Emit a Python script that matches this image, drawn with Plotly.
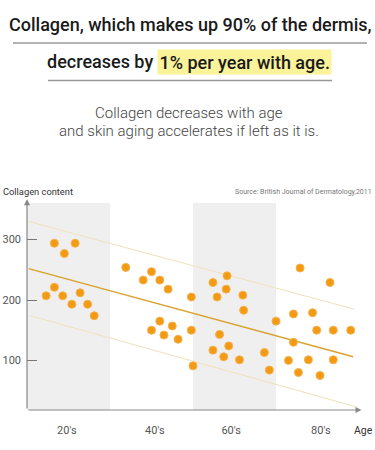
import plotly.graph_objects as go

# ---------------- data ----------------
age_labels = ["20's", "40's", "60's", "80's"]
age_label_pos = [0.48, 1.54, 2.46, 3.54]

dot_x = [0.33, 0.58, 0.45, 0.33, 0.23, 0.43, 0.64, 0.54, 0.73, 0.81,
         1.19, 1.50, 1.40, 1.60, 1.70, 1.98, 1.60, 1.50, 1.75, 1.65, 1.82, 1.98, 2.00,
         2.41, 2.24, 2.40, 2.29, 2.60, 2.61, 2.32, 2.43, 2.24, 2.37, 2.56, 2.86, 2.92,
         3.00, 3.29, 3.65, 3.21, 3.44, 3.49, 3.69, 3.90, 3.21, 3.15, 3.39, 3.69, 3.27, 3.53]
dot_y = [294, 294, 277, 221, 207, 207, 212, 193, 193, 174,
         254, 247, 233, 233, 218, 205, 165, 150, 157, 142, 135, 150, 91,
         240, 229, 218, 205, 208, 183, 143, 124, 117, 106, 101, 113, 84,
         165, 253, 229, 177, 179, 150, 150, 150, 130, 100, 101, 101, 80, 75]

trend_x = [0.02, 3.93]
trend_y = [252, 106]
upper_x = [0.02, 3.94]
upper_y = [330, 185]
lower_x = [0.04, 3.97]
lower_y = [174, 23]

y_ticks = [100, 200, 300]

# ---------------- layout helpers ----------------
W, H = 375, 450
ML, MR, MT, MB = 27, 13, 198, 40
PW, PH = W - ML - MR, H - MT - MB
X_RANGE = [0, 4.036]
Y_RANGE = [17.9, 368.9]


def px(xp):
    return (xp - ML) / PW


def py(yp):
    return (H - MB - yp) / PH


fig = go.Figure()

# shaded bands (20's and 60's)
for x0, x1 in [(0, 1), (2, 3)]:
    fig.add_shape(type="rect", xref="x", yref="y", x0=x0, x1=x1,
                  y0=Y_RANGE[0], y1=360.6, fillcolor="#EFEFEF",
                  line=dict(width=0), layer="below")

fig.add_trace(go.Scatter(x=upper_x, y=upper_y, mode="lines",
                         line=dict(color="#EFE2BC", width=1), hoverinfo="skip"))
fig.add_trace(go.Scatter(x=lower_x, y=lower_y, mode="lines",
                         line=dict(color="#EFE2BC", width=1), hoverinfo="skip"))
fig.add_trace(go.Scatter(x=trend_x, y=trend_y, mode="lines",
                         line=dict(color="#D9A32E", width=1.5), hoverinfo="skip"))
fig.add_trace(go.Scatter(x=dot_x, y=dot_y, mode="markers",
                         marker=dict(size=8, color="#F29A14",
                                     line=dict(width=1, color="#F6B24A"))))

# axes arrows
fig.add_annotation(x=0, y=367, ax=0, ay=Y_RANGE[0], xref="x", yref="y",
                   axref="x", ayref="y", text="", showarrow=True,
                   arrowhead=2, arrowsize=1, arrowwidth=1.2, arrowcolor="#888888")
fig.add_annotation(x=4.03, y=Y_RANGE[0], ax=0, ay=Y_RANGE[0], xref="x", yref="y",
                   axref="x", ayref="y", text="", showarrow=True,
                   arrowhead=2, arrowsize=1, arrowwidth=1.2, arrowcolor="#888888")

TITLE_FONT = dict(family="Roboto", size=18, color="#1A1A1A", weight=500)

# titles
fig.add_annotation(xref="paper", yref="paper", x=px(190), y=py(24),
                   text="Collagen, which makes up 90% of the dermis,",
                   showarrow=False, font=TITLE_FONT, xanchor="center", yanchor="middle")
fig.add_annotation(xref="paper", yref="paper", x=px(155), y=py(62),
                   text="decreases by", showarrow=False, font=TITLE_FONT,
                   xanchor="right", yanchor="middle")
fig.add_annotation(xref="paper", yref="paper", x=px(157), y=py(62),
                   text="1% per year with age.", showarrow=False, font=TITLE_FONT,
                   xanchor="left", yanchor="middle", bgcolor="#FBF39A", borderpad=1.5)
fig.add_shape(type="line", xref="paper", yref="paper", x0=px(13), x1=px(367),
              y0=py(43), y1=py(43), line=dict(color="#999999", width=1.5))
fig.add_shape(type="line", xref="paper", yref="paper", x0=px(48), x1=px(332),
              y0=py(80.5), y1=py(80.5), line=dict(color="#999999", width=1.5))

SUB_FONT = dict(family="Roboto", size=15, color="#444444", weight=300)
fig.add_annotation(xref="paper", yref="paper", x=px(189), y=py(113),
                   text="Collagen decreases with age", showarrow=False,
                   font=SUB_FONT, xanchor="center", yanchor="middle")
fig.add_annotation(xref="paper", yref="paper", x=px(189), y=py(131),
                   text="and skin aging accelerates if left as it is.", showarrow=False,
                   font=SUB_FONT, xanchor="center", yanchor="middle")

# axis titles / source
fig.add_annotation(xref="paper", yref="paper", x=px(1), y=py(191),
                   text="Collagen content", showarrow=False,
                   font=dict(family="Roboto", size=9.3, color="#333333"),
                   xanchor="left", yanchor="middle")
fig.add_annotation(xref="paper", yref="paper", x=px(374), y=py(192),
                   text="Source: British Journal of Dermatology,2011", showarrow=False,
                   font=dict(family="Roboto", size=7, color="#777777"),
                   xanchor="right", yanchor="middle")
fig.add_annotation(xref="paper", yref="paper", x=px(363), y=py(430),
                   text="Age", showarrow=False,
                   font=dict(family="Roboto", size=10.5, color="#333333"),
                   xanchor="center", yanchor="middle")

fig.update_xaxes(range=X_RANGE, showgrid=False, zeroline=False, showline=False,
                 tickvals=age_label_pos, ticktext=age_labels, ticks="",
                 ticklabelstandoff=12, automargin=False,
                 tickfont=dict(family="Roboto", size=11, color="#555555"),
                 fixedrange=True)
fig.update_yaxes(range=Y_RANGE, showgrid=False, zeroline=False, showline=False,
                 tickvals=y_ticks, ticks="inside", ticklen=10, tickcolor="#777777",
                 tickwidth=1, ticklabelstandoff=5, automargin=False,
                 tickfont=dict(family="Roboto", size=11, color="#555555"),
                 fixedrange=True)

fig.update_layout(width=W, height=H, margin=dict(l=ML, r=MR, t=MT, b=MB),
                  paper_bgcolor="white", plot_bgcolor="white", showlegend=False)

fig.write_html("out.html", config={"displayModeBar": False},
               post_script="document.body.style.margin='0';")
